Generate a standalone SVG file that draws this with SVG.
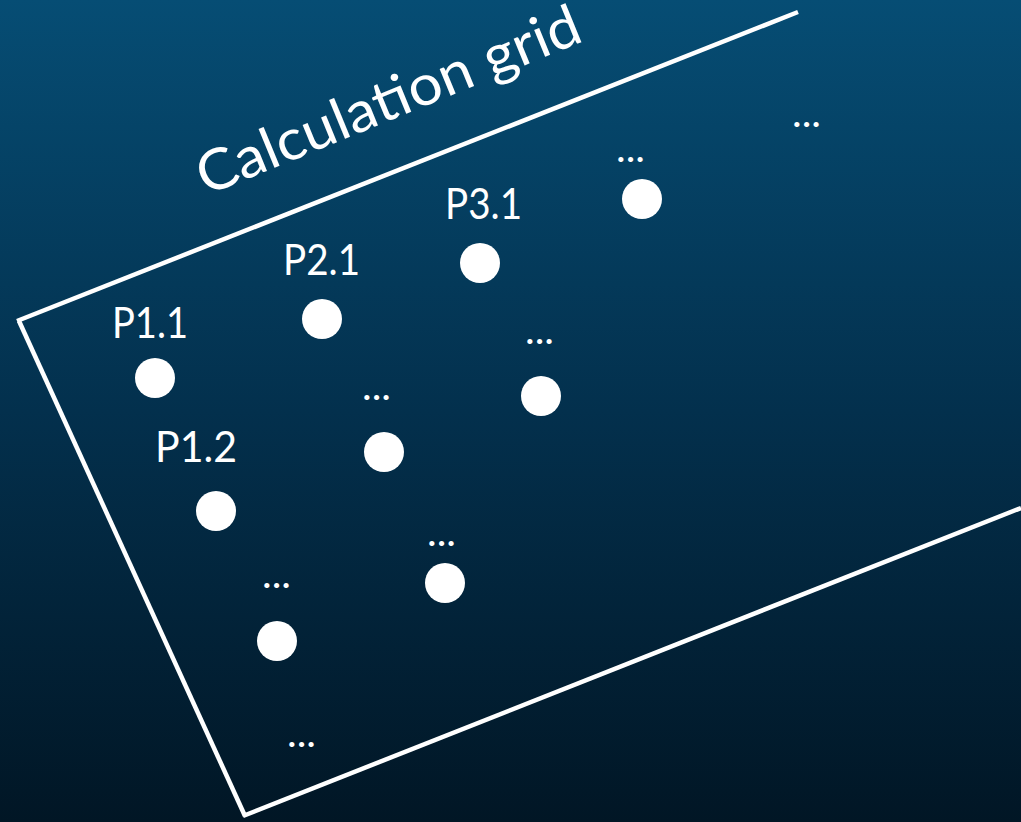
<svg xmlns="http://www.w3.org/2000/svg" width="1021" height="822" viewBox="0 0 1021 822">
<defs>
<linearGradient id="bg" x1="0" y1="0" x2="0" y2="1">
<stop offset="0" stop-color="#064d74"/>
<stop offset="0.5" stop-color="#03304d"/>
<stop offset="1" stop-color="#011625"/>
</linearGradient>
</defs>
<style>
.pt{fill:#fff}
.lbl{fill:#fff;font-family:Lato,"Open Sans",sans-serif;font-size:42px}
.ell{fill:#fff;font-family:Lato,"Open Sans",sans-serif;font-size:38px}
.edge{stroke:#fff;stroke-width:4.5;fill:none;stroke-linecap:butt}
</style>
<rect width="1021" height="822" fill="url(#bg)"/>
<g id="connectors">
<line class="edge" x1="17" y1="321" x2="798" y2="12"/>
<line class="edge" x1="19" y1="321" x2="245" y2="816"/>
<line class="edge" x1="243" y1="816" x2="1021" y2="508"/>
</g>
<g id="title">
<text x="0" y="0" transform="translate(206,196) rotate(-22.3)" fill="#fff" font-family="Lato,'Open Sans',sans-serif" font-size="57" textLength="410" lengthAdjust="spacingAndGlyphs">Calculation grid</text>
</g>
<g id="p11"><circle class="pt" cx="155" cy="378" r="20"/><text class="lbl" x="112" y="338" textLength="76" lengthAdjust="spacingAndGlyphs">P1.1</text></g>
<g id="p21"><circle class="pt" cx="322" cy="319" r="20"/><text class="lbl" x="283" y="275" textLength="77" lengthAdjust="spacingAndGlyphs">P2.1</text></g>
<g id="p31"><circle class="pt" cx="480" cy="263" r="20"/><text class="lbl" x="445" y="219" textLength="77" lengthAdjust="spacingAndGlyphs">P3.1</text></g>
<g id="p12"><circle class="pt" cx="216" cy="511" r="20"/><text class="lbl" x="155" y="462" textLength="82" lengthAdjust="spacingAndGlyphs">P1.2</text></g>
<g id="p41"><circle class="pt" cx="642" cy="199" r="20"/><text class="ell" x="616" y="162" textLength="29" lengthAdjust="spacingAndGlyphs">...</text></g>
<g id="p22"><circle class="pt" cx="384" cy="452" r="20"/><text class="ell" x="362" y="400" textLength="29" lengthAdjust="spacingAndGlyphs">...</text></g>
<g id="p32"><circle class="pt" cx="541" cy="396" r="20"/><text class="ell" x="525" y="344" textLength="29" lengthAdjust="spacingAndGlyphs">...</text></g>
<g id="p23"><circle class="pt" cx="445" cy="583" r="20"/><text class="ell" x="427" y="546" textLength="29" lengthAdjust="spacingAndGlyphs">...</text></g>
<g id="p13"><circle class="pt" cx="277" cy="641" r="20"/><text class="ell" x="262" y="588" textLength="29" lengthAdjust="spacingAndGlyphs">...</text></g>
<g id="more1"><text class="ell" x="792" y="127" textLength="29" lengthAdjust="spacingAndGlyphs">...</text></g>
<g id="more2"><text class="ell" x="287" y="747" textLength="29" lengthAdjust="spacingAndGlyphs">...</text></g>
</svg>
